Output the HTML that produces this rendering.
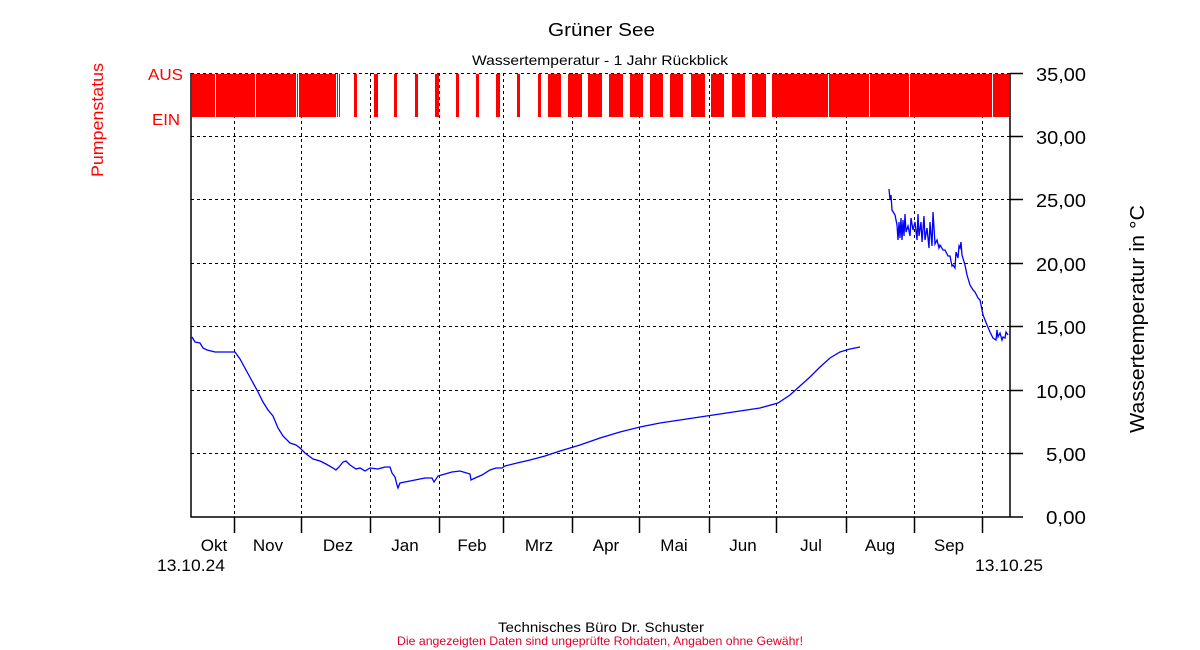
<!DOCTYPE html>
<html><head><meta charset="utf-8"><style>
html,body{margin:0;padding:0;background:#fff}
svg{display:block}
text{font-family:"Liberation Sans",Arial,sans-serif}
</style></head><body>
<svg width="1200" height="650" viewBox="0 0 1200 650" xmlns="http://www.w3.org/2000/svg">
<rect width="1200" height="650" fill="#fff"/>
<text x="548" y="36" font-size="18" textLength="107" lengthAdjust="spacingAndGlyphs">Grüner See</text>
<text x="472" y="65" font-size="14" textLength="256" lengthAdjust="spacingAndGlyphs">Wassertemperatur - 1 Jahr Rückblick</text>
<text transform="translate(103,177) rotate(-90)" font-size="17" fill="#f00" textLength="114" lengthAdjust="spacingAndGlyphs">Pumpenstatus</text>
<text x="148" y="80" font-size="16" fill="#f00" textLength="35" lengthAdjust="spacingAndGlyphs">AUS</text>
<text x="152" y="125" font-size="16" fill="#f00" textLength="28" lengthAdjust="spacingAndGlyphs">EIN</text>
<text transform="translate(1144,433) rotate(-90)" font-size="20" textLength="228" lengthAdjust="spacingAndGlyphs">Wassertemperatur in °C</text>
<g stroke="#000" stroke-width="1" stroke-dasharray="3,3" fill="none">
<path d="M191 453.5H1010M191 390.5H1010M191 326.5H1010M191 263.5H1010M191 199.5H1010M191 136.5H1010M191 73.5H1010"/>
<path d="M234.5 73V517M301.5 73V517M370.5 73V517M439.5 73V517M503.5 73V517M572.5 73V517M639.5 73V517M709.5 73V517M776.5 73V517M846.5 73V517M914.5 73V517M982.5 73V517"/>
</g>
<g fill="#f00">
<rect x="192" y="74" width="23" height="43"/>
<rect x="216" y="74" width="39" height="43"/>
<rect x="256" y="74" width="40" height="43"/>
<rect x="297" y="74" width="1" height="43"/>
<rect x="299" y="74" width="37" height="43"/>
<rect x="337" y="74" width="1" height="43"/>
<rect x="339" y="74" width="1" height="43"/>
<rect x="354" y="74" width="3" height="43"/>
<rect x="374" y="74" width="4" height="43"/>
<rect x="394" y="74" width="3" height="43"/>
<rect x="415" y="74" width="3" height="43"/>
<rect x="435" y="74" width="4" height="43"/>
<rect x="456" y="74" width="3" height="43"/>
<rect x="476" y="74" width="3" height="43"/>
<rect x="496" y="74" width="4" height="43"/>
<rect x="517" y="74" width="3" height="43"/>
<rect x="538" y="74" width="3" height="43"/>
<rect x="548" y="74" width="13" height="43"/>
<rect x="568" y="74" width="14" height="43"/>
<rect x="588" y="74" width="14" height="43"/>
<rect x="609" y="74" width="14" height="43"/>
<rect x="630" y="74" width="13" height="43"/>
<rect x="650" y="74" width="13" height="43"/>
<rect x="670" y="74" width="13" height="43"/>
<rect x="691" y="74" width="14" height="43"/>
<rect x="711" y="74" width="13" height="43"/>
<rect x="732" y="74" width="13" height="43"/>
<rect x="752" y="74" width="14" height="43"/>
<rect x="772" y="74" width="56" height="43"/>
<rect x="829" y="74" width="40" height="43"/>
<rect x="870" y="74" width="39" height="43"/>
<rect x="910" y="74" width="82" height="43"/>
<rect x="993" y="74" width="16" height="43"/>
</g>
<g stroke="#000" stroke-width="1.5" fill="none">
<path d="M191 73V517H1010"/>
<path d="M1010 73V517"/>
<path d="M1010 73.5H1023M1010 136.5H1023M1010 199.5H1023M1010 263.5H1023M1010 326.5H1023M1010 390.5H1023M1010 453.5H1023M1010 517H1023"/>
<path d="M234.5 517V533M301.5 517V533M370.5 517V533M439.5 517V533M503.5 517V533M572.5 517V533M639.5 517V533M709.5 517V533M776.5 517V533M846.5 517V533M914.5 517V533M982.5 517V533"/>
</g>
<g font-size="18">
<text x="1036" y="81" textLength="50" lengthAdjust="spacingAndGlyphs">35,00</text>
<text x="1036" y="144" textLength="50" lengthAdjust="spacingAndGlyphs">30,00</text>
<text x="1036" y="207" textLength="50" lengthAdjust="spacingAndGlyphs">25,00</text>
<text x="1036" y="271" textLength="50" lengthAdjust="spacingAndGlyphs">20,00</text>
<text x="1036" y="334" textLength="50" lengthAdjust="spacingAndGlyphs">15,00</text>
<text x="1036" y="398" textLength="50" lengthAdjust="spacingAndGlyphs">10,00</text>
<text x="1046" y="461" textLength="40" lengthAdjust="spacingAndGlyphs">5,00</text>
<text x="1046" y="524" textLength="40" lengthAdjust="spacingAndGlyphs">0,00</text>
</g>
<g font-size="17" text-anchor="middle">
<text x="214" y="551">Okt</text>
<text x="268" y="551">Nov</text>
<text x="338" y="551">Dez</text>
<text x="405" y="551">Jan</text>
<text x="472" y="551">Feb</text>
<text x="539" y="551">Mrz</text>
<text x="606" y="551">Apr</text>
<text x="674" y="551">Mai</text>
<text x="743" y="551">Jun</text>
<text x="811" y="551">Jul</text>
<text x="880" y="551">Aug</text>
<text x="949" y="551">Sep</text>
</g>
<text x="157" y="571" font-size="17" textLength="68" lengthAdjust="spacingAndGlyphs">13.10.24</text>
<text x="975" y="571" font-size="17" textLength="68" lengthAdjust="spacingAndGlyphs">13.10.25</text>
<g stroke="#00f" stroke-width="1.3" fill="none">
<polyline points="192,337 195,342 200,343 203,348 207,350 215,352 230,352 235,352 240,359 246,370 252,381 258,392 263,402 268,410 273,416 278,428 283,436 290,443 296,445 300,448 305,453 313,459 320,461 326,464 333,468 336,470 339,467 343,462 346,461 350,465 356,469 360,468 365,471 370,468 378,469 385,467 390,467 392,473 395,477 397,485 398,488 400,483 405,482 415,480 425,478 432,478 434,482 438,476 445,474 452,472 460,471 470,474 471,480 475,478 482,475 490,470 496,468 502,468 505,466 517,463 530,460 545,456 560,451 580,445 600,438 620,432 640,427 660,423 680,420 700,417 720,414 740,411 760,408 778,403 790,395 800,386 810,377 820,367 830,358 840,352 850,349 860,347"/>
<polyline points="889,189 890,200 891,195 892,210 895,215 897,225 898,240 899,222 900,238 901,218 902,240 903,220 904,236 905,214 906,232 908,226 910,236 911,218 913,230 915,222 917,240 918,214 919,236 921,222 922,242 924,216 925,240 927,228 929,248 930,222 932,246 933,212 935,244 937,240 939,248 940,245 943,250 945,250 948,256 950,256 952,266 953,265 955,268 956,252 958,258 959,246 960,248 961,242 962,255 965,265 967,275 970,285 973,290 975,292 978,298 980,300 983,315 987,325 990,332 993,338 996,340 997,330 998,337 1000,333 1002,340 1003,337 1005,338 1006,332 1008,335"/>
</g>
<text x="498" y="632" font-size="14" textLength="206" lengthAdjust="spacingAndGlyphs">Technisches Büro Dr. Schuster</text>
<text x="397" y="645" font-size="12" fill="#e0002a" textLength="406" lengthAdjust="spacingAndGlyphs">Die angezeigten Daten sind ungeprüfte Rohdaten, Angaben ohne Gewähr!</text>
</svg>
</body></html>
